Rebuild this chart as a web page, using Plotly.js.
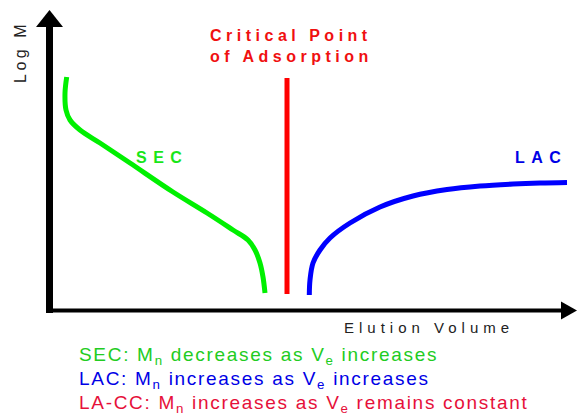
<!DOCTYPE html>
<html>
<head>
<meta charset="utf-8">
<script src="https://cdn.plot.ly/plotly-3.0.1.min.js"></script>
<style>html,body{margin:0;padding:0;background:#fff;}#chart{width:577px;height:413px;}</style>
</head>
<body>
<div id="chart"></div>
<script>
// Elution volume (x) and Log M (y) in chart units, origin at the axes corner
const secX = [16.7, 15, 16, 20, 30, 50, 80, 123, 157, 183, 198, 205, 210, 213, 215];
const secY = [233, 217, 200, 190, 180, 167, 147, 118, 97, 80, 70, 60, 47, 33, 17];
const critX = [237, 237];
const critY = [232, 16];
const lacX = [259.3, 260, 263, 270, 280, 300, 330, 363, 397, 430, 463, 490, 517];
const lacY = [15, 30, 47, 60, 72, 87, 103, 114, 120.5, 124, 126, 127, 127.5];

const axisNames = ["Log M", "Elution Volume"];
const curveLabels = ["SEC", "LAC", "Critical Point<br>of Adsorption"];
const notes = [
  "SEC: M<sub>n</sub> decreases as V<sub>e</sub> increases",
  "LAC: M<sub>n</sub> increases as V<sub>e</sub> increases",
  "LA-CC: M<sub>n</sub> increases as V<sub>e</sub> remains constant"
];

const FONT = "Liberation Sans, Arial, sans-serif";
const sp = (t, s) => '<span style="letter-spacing:' + s + 'px">' + t + '</span>';

const traces = [
  {x: secX, y: secY, mode: "lines", line: {color: "#00f000", width: 5, shape: "spline", smoothing: 1}, hoverinfo: "skip"},
  {x: critX, y: critY, mode: "lines", line: {color: "#ff0000", width: 5}, hoverinfo: "skip"},
  {x: lacX, y: lacY, mode: "lines", line: {color: "#0000ff", width: 5, shape: "spline", smoothing: 1}, hoverinfo: "skip"}
];

const shapes = [
  // y axis
  {type: "line", xref: "x", yref: "y", x0: -0.5, x1: -0.5, y0: -3, y1: 285, line: {color: "#000", width: 7}},
  {type: "path", xref: "x", yref: "y", path: "M -14 283 L -0.5 300 L 13 283 Z", fillcolor: "#000", line: {width: 0}},
  // x axis
  {type: "line", xref: "x", yref: "y", x0: -4, x1: 513, y0: -0.5, y1: -0.5, line: {color: "#000", width: 4}},
  {type: "path", xref: "x", yref: "y", path: "M 511 8.5 L 527 -0.5 L 511 -9.5 Z", fillcolor: "#000", line: {width: 0}}
];

const annotations = [
  {x: -30, y: 258, xref: "x", yref: "y", text: sp(axisNames[0], 3.5), textangle: -90, showarrow: false,
   font: {family: FONT, size: 16, color: "#222"}, xanchor: "center", yanchor: "middle"},
  {x: 292, y: -17, xref: "x", yref: "y", text: sp(axisNames[1], 5), showarrow: false,
   font: {family: FONT, size: 15, color: "#222"}, xanchor: "left", yanchor: "middle"},
  {x: 84, y: 153, xref: "x", yref: "y", text: "<b>" + sp(curveLabels[0], 6.5) + "</b>", showarrow: false,
   font: {family: FONT, size: 16, color: "#19e619"}, xanchor: "left", yanchor: "middle"},
  {x: 463, y: 153, xref: "x", yref: "y", text: "<b>" + sp(curveLabels[1], 6.5) + "</b>", showarrow: false,
   font: {family: FONT, size: 16, color: "#0000e6"}, xanchor: "left", yanchor: "middle"},
  {x: 158, y: 264, xref: "x", yref: "y", text: "<b>" + sp(curveLabels[2], 4.5) + "</b>", showarrow: false,
   font: {family: FONT, size: 16, color: "#f01010"}, xanchor: "left", yanchor: "middle", align: "left"},
  {x: 27, y: -46, xref: "x", yref: "y", text: sp(notes[0], 1.7), showarrow: false,
   font: {family: FONT, size: 19, color: "#22cc22"}, xanchor: "left", yanchor: "middle"},
  {x: 27, y: -70, xref: "x", yref: "y", text: sp(notes[1], 1.7), showarrow: false,
   font: {family: FONT, size: 19, color: "#0000e6"}, xanchor: "left", yanchor: "middle"},
  {x: 27, y: -94, xref: "x", yref: "y", text: sp(notes[2], 1.7), showarrow: false,
   font: {family: FONT, size: 19, color: "#e6103a"}, xanchor: "left", yanchor: "middle"}
];

const layout = {
  width: 577, height: 413,
  margin: {l: 0, r: 0, t: 0, b: 0, pad: 0},
  paper_bgcolor: "#fff", plot_bgcolor: "#fff",
  showlegend: false,
  xaxis: {range: [-50, 527], visible: false, fixedrange: true},
  yaxis: {range: [-103, 310], visible: false, fixedrange: true},
  shapes: shapes,
  annotations: annotations
};

Plotly.newPlot("chart", traces, layout, {staticPlot: true, displayModeBar: false});
</script>
</body>
</html>
